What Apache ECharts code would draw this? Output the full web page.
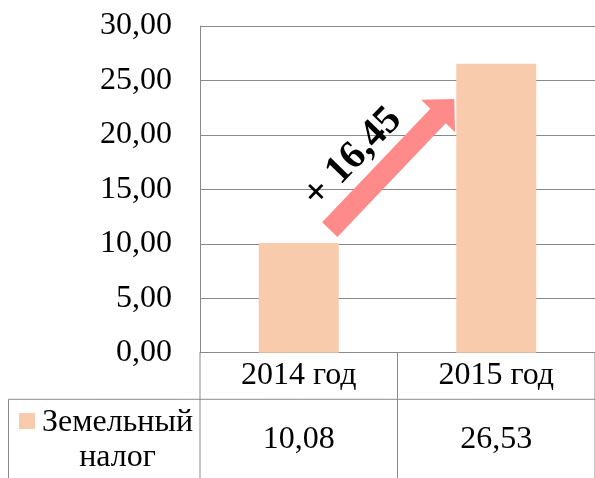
<!DOCTYPE html>
<html>
<head>
<meta charset="utf-8">
<style>
html,body{margin:0;padding:0;background:#fff;}
#chart{width:595px;height:478px;}
</style>
<script src="https://cdn.jsdelivr.net/npm/echarts@6/dist/echarts.min.js"></script>
</head>
<body>
<div id="chart"></div>
<script>
const categories = ['2014 год', '2015 год'];
const values = [10.08, 26.53];
const seriesName = 'Земельный\nналог';
const changeLabel = '+ 16,45';
const yMin = 0, yMax = 30, yInterval = 5;

const barColor = '#f8cbad';
const lineColor = '#898989';
const arrowColor = '#ff8a8a';
const font = 'Liberation Serif, serif';
const fs = 32;
const fmt = v => v.toFixed(2).replace('.', ',');

const chart = echarts.init(document.getElementById('chart'), null, {renderer: 'canvas'});
chart.setOption({
  animation: false,
  textStyle: {fontFamily: font},
  grid: {left: 200, top: 26, right: -3, bottom: 125.3, containLabel: false},
  xAxis: {
    type: 'category',
    data: categories,
    axisLine: {show: true, lineStyle: {color: lineColor, width: 1}},
    axisTick: {show: false},
    axisLabel: {fontFamily: font, fontSize: fs, color: '#000', margin: 7}
  },
  yAxis: {
    type: 'value',
    min: yMin, max: yMax, interval: yInterval,
    axisLine: {show: true, lineStyle: {color: lineColor, width: 1}},
    axisTick: {show: false},
    splitLine: {show: true, lineStyle: {color: lineColor, width: 1}},
    axisLabel: {fontFamily: font, fontSize: fs, color: '#000', margin: 28, formatter: v => fmt(v)}
  },
  series: [{
    type: 'bar',
    name: seriesName,
    data: values,
    barWidth: 80,
    itemStyle: {color: barColor}
  }]
});

function drawOverlay() {
  const px = (i, v) => chart.convertToPixel({xAxisIndex: 0, yAxisIndex: 0}, [i, v]);
  const p00 = px(0, 0), p10 = px(1, 0);
  const catW = p10[0] - p00[0];
  const left = p00[0] - catW / 2;
  const mid = p00[0] + catW / 2;
  const right = p10[0] + catW / 2;
  const axisY = p00[1];
  const tableY = 399.3;
  const H = 478;
  const g = [];
  const ls = {stroke: lineColor, lineWidth: 1};
  g.push({type: 'line', shape: {x1: left, y1: axisY, x2: left, y2: H}, style: ls, silent: true});
  g.push({type: 'line', shape: {x1: mid, y1: axisY, x2: mid, y2: H}, style: ls, silent: true});
  g.push({type: 'line', shape: {x1: right, y1: axisY, x2: right, y2: H}, style: ls, silent: true});
  g.push({type: 'line', shape: {x1: 8.5, y1: tableY, x2: right, y2: tableY}, style: ls, silent: true});
  g.push({type: 'line', shape: {x1: 8.5, y1: tableY, x2: 8.5, y2: H}, style: ls, silent: true});
  // legend key
  g.push({type: 'rect', shape: {x: 19, y: 413, width: 16, height: 16}, style: {fill: barColor}, silent: true});
  g.push({type: 'text', x: 117.5, y: 440, style: {text: seriesName, fontFamily: font, fontSize: fs, fill: '#000', align: 'center', verticalAlign: 'middle', lineHeight: 35}, silent: true});
  // values row
  values.forEach((v, i) => {
    const p = px(i, 0);
    g.push({type: 'text', x: p[0], y: 440, style: {text: fmt(v), fontFamily: font, fontSize: fs, fill: '#000', align: 'center', verticalAlign: 'middle'}, silent: true});
  });
  // arrow
  const tail = px(0, 11.3); tail[0] += 31;
  const tip = px(1, 23.3); tip[0] -= 42;
  const dx = tip[0] - tail[0], dy = tip[1] - tail[1];
  const len = Math.hypot(dx, dy);
  const u = [dx / len, dy / len];
  const n = [-u[1], u[0]];
  const hw = 10.6, hh = 23.5, hl = 23.5;
  const base = [tip[0] - u[0] * hl, tip[1] - u[1] * hl];
  const P = (p, k, s) => [p[0] + n[0] * k * s, p[1] + n[1] * k * s];
  const pts = [P(tail, hw, 1), P(base, hw, 1), P(base, hh, 1), tip, P(base, hh, -1), P(base, hw, -1), P(tail, hw, -1)];
  g.push({type: 'polygon', shape: {points: pts}, style: {fill: arrowColor}, silent: true});
  const tc = px(0, 17.9); tc[0] += 54;
  g.push({type: 'text', x: tc[0], y: tc[1], rotation: 46 * Math.PI / 180,
    style: {text: changeLabel, fontFamily: font, fontWeight: 'bold', fontSize: 40, fill: '#000', align: 'center', verticalAlign: 'middle'}, silent: true});
  chart.setOption({graphic: g});
}
drawOverlay();
</script>
</body>
</html>
